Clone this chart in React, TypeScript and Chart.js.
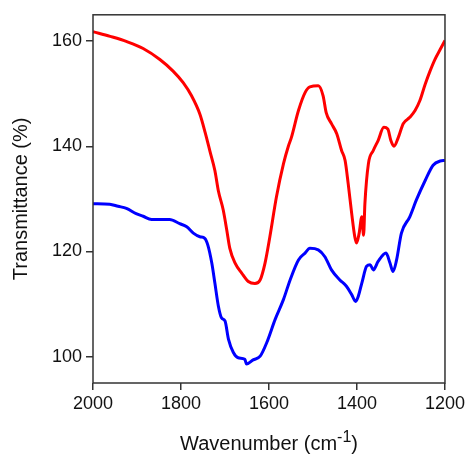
import React, { useEffect, useRef } from "react";
import { Chart, registerables } from "chart.js";

Chart.register(...registerables);

const redWavenumber = [2000, 1961, 1923, 1886, 1848, 1818, 1795, 1776, 1757, 1745, 1734, 1723, 1715, 1704, 1696, 1689, 1677, 1662, 1647, 1632, 1620, 1609, 1598, 1583, 1567, 1556, 1549, 1533, 1518, 1507, 1488, 1477, 1470, 1458, 1446, 1435, 1427, 1420, 1412, 1405, 1401, 1395, 1389, 1385, 1382, 1374, 1363, 1352, 1339, 1330, 1323, 1316, 1306, 1295, 1280, 1268, 1257, 1245, 1234, 1223, 1211, 1200];
const redTransmittance = [161.8, 160.9, 159.9, 158.6, 156.5, 154.3, 152.1, 149.6, 146.1, 142.6, 139.0, 135.4, 131.5, 127.9, 124.1, 120.6, 117.8, 115.9, 114.3, 113.9, 114.6, 117.8, 122.8, 130.4, 136.7, 140.0, 141.7, 146.8, 150.2, 151.3, 151.5, 149.6, 146.4, 144.3, 142.4, 139.2, 137.3, 132.9, 127.2, 122.8, 121.6, 123.5, 126.6, 123.1, 129.1, 136.7, 139.2, 141.1, 143.6, 143.3, 141.1, 140.0, 141.7, 144.3, 145.5, 146.8, 148.7, 151.8, 154.3, 156.5, 158.4, 160.1];

const blueWavenumber = [2000, 1962, 1943, 1924, 1902, 1886, 1867, 1848, 1826, 1803, 1787, 1772, 1757, 1746, 1739, 1730, 1723, 1715, 1708, 1700, 1692, 1681, 1670, 1655, 1651, 1636, 1620, 1605, 1586, 1567, 1552, 1533, 1518, 1507, 1488, 1473, 1458, 1439, 1424, 1412, 1403, 1397, 1389, 1378, 1370, 1363, 1352, 1334, 1325, 1318, 1310, 1299, 1280, 1265, 1245, 1227, 1211, 1200];
const blueTransmittance = [129.1, 129.0, 128.6, 128.2, 127.2, 126.7, 126.1, 126.1, 126.1, 125.3, 124.7, 123.5, 122.8, 122.5, 121.2, 117.8, 114.0, 109.6, 107.4, 106.8, 103.3, 100.8, 99.8, 99.5, 98.6, 99.4, 100.1, 102.7, 107.1, 110.9, 114.6, 118.4, 119.7, 120.6, 120.3, 119.0, 116.5, 114.6, 113.4, 111.8, 110.5, 111.5, 114.0, 117.2, 117.5, 116.5, 118.1, 119.7, 117.8, 116.2, 118.4, 123.5, 126.6, 129.8, 133.5, 136.4, 137.2, 137.3];

const xTicks = [2000, 1800, 1600, 1400, 1200];
const yTicks = [100, 120, 140, 160];

const FONT = '"Liberation Sans", Arial, sans-serif';

const boxPlugin = {
  id: "boxAndTitle",
  afterDraw(chart: any) {
    const ctx = chart.ctx;
    const a = chart.chartArea;
    ctx.save();
    ctx.strokeStyle = "#333";
    ctx.lineWidth = 1.5;
    ctx.strokeRect(a.left, a.top, a.right - a.left, a.bottom - a.top);
    const main = `20px ${FONT}`;
    const sup = `16px ${FONT}`;
    ctx.font = main;
    const w1 = ctx.measureText("Wavenumber (cm").width;
    const w3 = ctx.measureText(")").width;
    ctx.font = sup;
    const w2 = ctx.measureText("-1").width;
    let x = (a.left + a.right) / 2 - (w1 + w2 + w3) / 2;
    const y = 450;
    ctx.fillStyle = "#111";
    ctx.textBaseline = "alphabetic";
    ctx.textAlign = "left";
    ctx.font = main;
    ctx.fillText("Wavenumber (cm", x, y);
    x += w1;
    ctx.font = sup;
    ctx.fillText("-1", x, y - 8);
    x += w2;
    ctx.font = main;
    ctx.fillText(")", x, y);
    ctx.restore();
  },
};

export default function App() {
  const ref = useRef<HTMLCanvasElement>(null);
  useEffect(() => {
    if (!ref.current) return;
    const toPts = (xs: number[], ys: number[]) => xs.map((x, i) => ({ x, y: ys[i] }));
    const chart = new Chart(ref.current, {
      type: "line",
      data: {
        datasets: [
          {
            data: toPts(redWavenumber, redTransmittance),
            borderColor: "rgb(255,0,0)",
            borderWidth: 3,
            pointRadius: 0,
            cubicInterpolationMode: "monotone",
          },
          {
            data: toPts(blueWavenumber, blueTransmittance),
            borderColor: "rgb(0,0,255)",
            borderWidth: 3,
            pointRadius: 0,
            cubicInterpolationMode: "monotone",
          },
        ],
      },
      options: {
        animation: false,
        responsive: false,
        events: [],
        layout: { padding: { top: 14, right: 23, left: 0, bottom: 0 } },
        plugins: { legend: { display: false }, tooltip: { enabled: false } },
        scales: {
          x: {
            type: "linear",
            reverse: true,
            min: 1200,
            max: 2000,
            afterBuildTicks: (s: any) => {
              s.ticks = xTicks.map((v) => ({ value: v }));
            },
            afterFit: (s: any) => {
              s.height = 72;
            },
            ticks: {
              color: "#111",
              font: { family: FONT, size: 18 },
              padding: 3,
              maxRotation: 0,
              autoSkip: false,
              callback: (v: any) => String(v),
            },
            grid: {
              drawOnChartArea: false,
              drawTicks: true,
              tickLength: 7,
              color: "#333",
              lineWidth: 1.5,
            },
            border: { display: false },
            title: { display: false },
          },
          y: {
            min: 95,
            max: 165,
            afterBuildTicks: (s: any) => {
              s.ticks = yTicks.map((v) => ({ value: v }));
            },
            afterFit: (s: any) => {
              s.width = 93;
            },
            ticks: {
              color: "#111",
              font: { family: FONT, size: 18 },
              padding: 4,
              autoSkip: false,
              callback: (v: any) => String(v),
            },
            grid: {
              drawOnChartArea: false,
              drawTicks: true,
              tickLength: 7,
              color: "#333",
              lineWidth: 1.5,
            },
            border: { display: false },
            title: {
              display: true,
              text: "Transmittance (%)",
              color: "#111",
              font: { family: FONT, size: 20, weight: "normal" },
              padding: { top: 9, bottom: 0 },
            },
          },
        },
      },
      plugins: [boxPlugin],
    } as any);
    return () => chart.destroy();
  }, []);
  return (
    <div style={{ position: "absolute", left: 0, top: 0, width: 468, height: 455 }}>
      <canvas ref={ref} width={468} height={455} style={{ width: 468, height: 455, display: "block" }} />
    </div>
  );
}
